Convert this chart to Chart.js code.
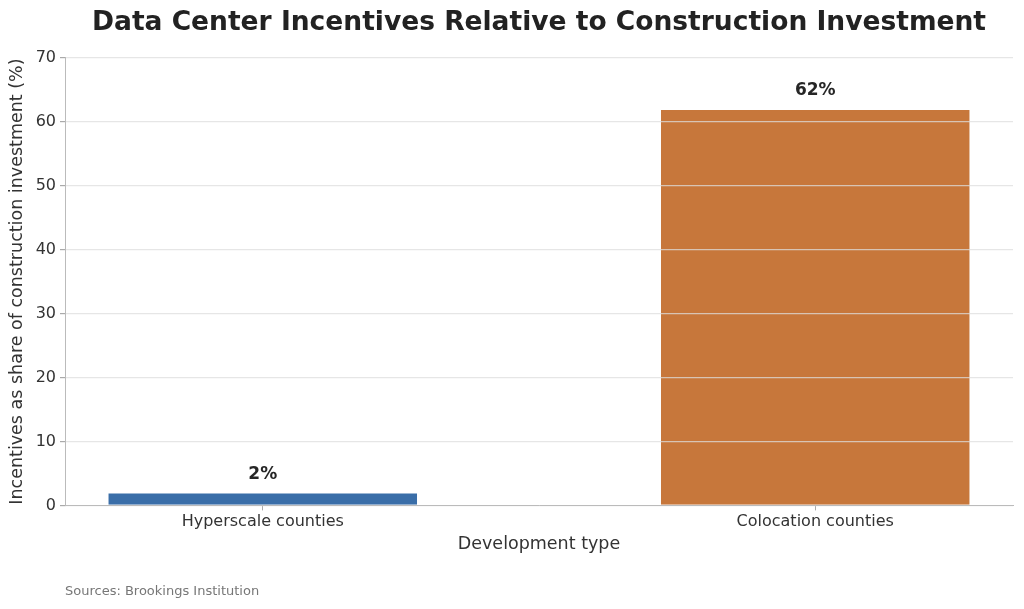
<!DOCTYPE html>
<html lang="en">
<head>
  <meta charset="UTF-8" />
  <title>Data Center Incentives</title>
  <style>
    html, body { margin: 0; padding: 0; background: #fff; }
    #wrap { width: 1024px; height: 609px; }
  </style>
</head>
<body>
  <div id="wrap"><canvas id="grafico"></canvas></div>

  <script src="https://cdn.jsdelivr.net/npm/chart.js"></script>
  <script>
    // Dados do gráfico
    const categorias = ['Hyperscale counties', 'Colocation counties'];
    const valores = [2, 62];
    const cores = ['#3a6ea8', '#c7773b'];
    const ticksY = [0, 10, 20, 30, 40, 50, 60, 70];

    const fonte = 'DejaVu Sans';

    // Rótulos em cima das barras
    const rotulosBarras = {
      id: 'rotulosBarras',
      afterDatasetsDraw(chart) {
        const ctx = chart.ctx;
        const meta = chart.getDatasetMeta(0);
        ctx.save();
        ctx.font = 'bold 17px "' + fonte + '"';
        ctx.fillStyle = '#262626';
        ctx.textAlign = 'center';
        ctx.textBaseline = 'middle';
        meta.data.forEach((barra, i) => {
          ctx.fillText(valores[i] + '%', barra.x, barra.y - 18);
        });
        ctx.restore();
      }
    };

    const ctx = document.getElementById('grafico').getContext('2d');
    new Chart(ctx, {
      type: 'bar',
      data: {
        datasets: [{
          data: valores.map((v, i) => ({ x: i, y: v })),
          backgroundColor: cores,
          borderColor: 'rgba(255,255,255,0.6)',
          borderWidth: 1,
          categoryPercentage: 1,
          barPercentage: 0.562
        }]
      },
      plugins: [rotulosBarras],
      options: {
        responsive: true,
        maintainAspectRatio: false,
        animation: false,
        layout: { padding: { left: 0, right: 11, top: 0, bottom: 0 } },
        plugins: {
          legend: { display: false },
          tooltip: { enabled: false },
          title: {
            display: true,
            text: 'Data Center Incentives Relative to Construction Investment',
            fullSize: false,
            color: '#222',
            font: { family: fonte, size: 26.5, weight: 'bold' },
            padding: { top: 7, bottom: 19 }
          },
          subtitle: {
            display: true,
            position: 'bottom',
            align: 'start',
            fullSize: false,
            text: 'Sources: Brookings Institution',
            color: '#777',
            font: { family: fonte, size: 13 },
            padding: { top: 28, bottom: 10 }
          }
        },
        scales: {
          x: {
            type: 'linear',
            offset: false,
            min: -0.358,
            max: 1.358,
            afterBuildTicks: scale => { scale.ticks = categorias.map((c, i) => ({ value: i })); },
            afterFit: scale => { scale.height = 50; },
            grid: { display: true, offset: false, drawOnChartArea: false, drawTicks: true, tickLength: 5, tickColor: '#aaa' },
            border: { display: true, color: '#bbb', z: 2 },
            ticks: {
              color: '#333',
              font: { family: fonte, size: 16 },
              padding: 2,
              maxRotation: 0,
              callback: v => categorias[v]
            },
            title: {
              display: true,
              text: 'Development type',
              color: '#333',
              font: { family: fonte, size: 17.5 },
              padding: { top: 4, bottom: 0 }
            }
          },
          y: {
            min: 0,
            max: 70,
            afterBuildTicks: scale => { scale.ticks = ticksY.map(v => ({ value: v })); },
            afterFit: scale => { scale.width = 65; },
            grid: { color: 'rgba(221,221,221,0.75)', lineWidth: 1.2, z: 1, tickLength: 5, tickColor: '#aaa' },
            border: { display: true, color: '#bbb', z: 2 },
            ticks: {
              color: '#333',
              font: { family: fonte, size: 16 },
              padding: 4
            },
            title: {
              display: true,
              text: 'Incentives as share of construction investment (%)',
              color: '#333',
              font: { family: fonte, size: 17.5 },
              padding: { top: 7, bottom: 0 }
            }
          }
        }
      }
    });
  </script>
</body>
</html>
